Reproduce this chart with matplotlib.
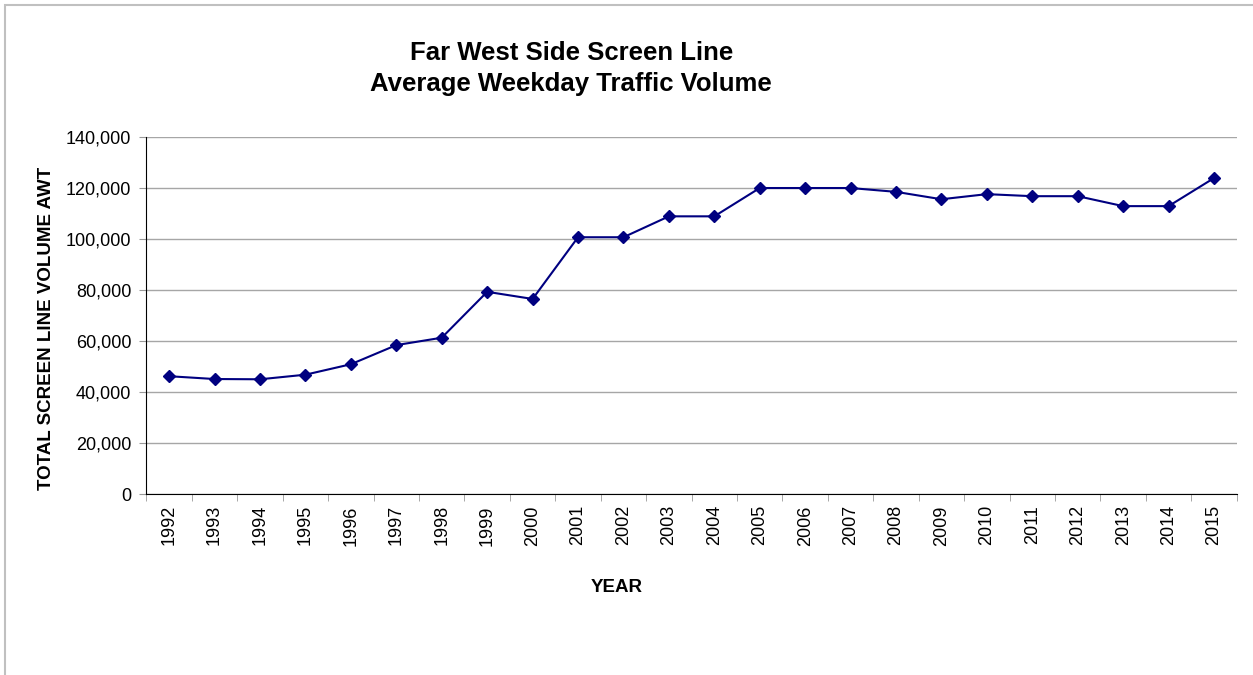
import matplotlib.pyplot as plt
from matplotlib.ticker import FuncFormatter, FixedLocator
from matplotlib.patches import Rectangle

plt.rcParams['font.family'] = ['Liberation Sans', 'DejaVu Sans']

years = ['1992', '1993', '1994', '1995', '1996', '1997', '1998', '1999',
         '2000', '2001', '2002', '2003', '2004', '2005', '2006', '2007',
         '2008', '2009', '2010', '2011', '2012', '2013', '2014', '2015']
volume = [46200, 45100, 45000, 46800, 50900, 58400, 61300, 79300,
          76500, 100700, 100700, 108900, 108900, 120000, 120000, 120000,
          118500, 115600, 117600, 116800, 116800, 112900, 112900, 123900]

fig = plt.figure(figsize=(12.53, 6.75), dpi=100)
ax = fig.add_axes([0.1169, 0.2681, 0.8701, 0.5289])

x = list(range(len(years)))
ax.plot(x, volume, color='#000080', linewidth=1.5, marker='D',
        markersize=6.5, markerfacecolor='#000080', markeredgecolor='#000080')

ax.set_xlim(-0.5, len(years) - 0.5)
ax.set_ylim(0, 140000)
ax.set_yticks(range(0, 140001, 20000))
ax.yaxis.set_major_formatter(FuncFormatter(lambda v, p: f'{int(v):,}'))

# category labels centred on the points, tick marks on the boundaries
ax.set_xticks(x)
ax.set_xticklabels(years, rotation=90, fontsize=13)
ax.tick_params(axis='x', which='major', length=0, pad=8)
ax.xaxis.set_minor_locator(FixedLocator([i - 0.5 for i in range(len(years) + 1)]))
ax.tick_params(axis='x', which='minor', length=5, color='#999999')
ax.tick_params(axis='y', length=5, color='#999999', labelsize=13, pad=6)

ax.grid(axis='y', color='#a6a6a6', linewidth=1)
ax.set_axisbelow(True)
for side in ['top', 'right']:
    ax.spines[side].set_visible(False)
ax.spines['left'].set_color('black')
ax.spines['bottom'].set_color('black')

fig.text(0.456, 0.899, 'Far West Side Screen Line\nAverage Weekday Traffic Volume',
         ha='center', va='center', fontsize=18.5, fontweight='bold',
         linespacing=1.35)
fig.text(0.037, 0.514, 'TOTAL SCREEN LINE VOLUME AWT', rotation=90,
         ha='center', va='center', fontsize=13.5, fontweight='bold')
fig.text(0.4925, 0.13, 'YEAR', ha='center', va='center',
         fontsize=13.5, fontweight='bold')

# light frame of the chart area
fig.patches.append(Rectangle((5 / 1253, -0.1), 1.2, 1 - 5 / 675 + 0.1,
                             transform=fig.transFigure, fill=False,
                             edgecolor='#c0c0c0', linewidth=1.5))

fig.savefig('out.png', dpi=100)
